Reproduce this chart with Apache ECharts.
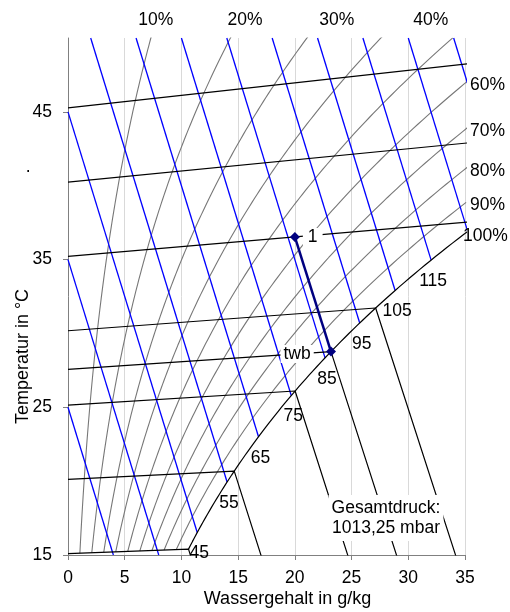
<!DOCTYPE html>
<html>
<head>
<meta charset="utf-8">
<script src="https://cdn.jsdelivr.net/npm/echarts@6/dist/echarts.min.js"></script>
<style>
  html, body { margin: 0; padding: 0; background: #fff; }
  #chart { width: 510px; height: 612px; }
</style>
</head>
<body>
<div id="chart"></div>
<script>
// h,x-Diagramm (Mollier) für feuchte Luft bei 1013,25 mbar

const totalPressure = 1013.25;                               // mbar
const isothermTemps = [15, 20, 25, 30, 35, 40, 45];          // °C
const rhLevels = [10, 20, 30, 40, 50, 60, 70, 80, 90];       // %
const rhTopLabels = ['10%', '20%', '30%', '40%'];
const rhSideLevels = [60, 70, 80, 90, 100];                  // %
const enthalpyLines = [15, 25, 35, 45, 55, 65, 75, 85, 95, 105, 115, 125, 135]; // kJ/kg
const enthalpyLabels = [45, 55, 65, 75, 85, 95, 105, 115];   // kJ/kg
const waterTicks = [0, 5, 10, 15, 20, 25, 30, 35];           // g/kg
const tempTicks = [15, 25, 35, 45];                          // °C

// Zustandspunkt 1 und Kühlgrenztemperatur
const stateName = ['1'];
const stateTemp = [35];        // °C
const stateWater = [20];       // g/kg
const wetBulbTemp = [27.4];    // °C

const FONT = '"Liberation Sans", Arial, sans-serif';

// --- Stoffwerte ---
function satPressure(t) {            // hPa (Magnus)
  return 6.112 * Math.exp(17.62 * t / (243.12 + t));
}
function waterContent(t, phi) {      // g/kg
  const pv = phi * satPressure(t);
  return 622 * pv / (totalPressure - pv);
}
function enthalpy(t, x) {            // kJ/kg, x in g/kg
  return 1.006 * t + x * (2.501 + 0.00186 * t);
}
// schiefwinklige Ordinate: h - r0·x
function skewY(t, x) { return enthalpy(t, x) - 2.5 * x; }
function fogY(t, x) {
  const xs = waterContent(t, 1);
  return enthalpy(t, xs) + (x - xs) * 0.00419 * t - 2.5 * x;
}
function bisect(f, lo, hi) {
  let flo = f(lo);
  for (let i = 0; i < 80; i++) {
    const mid = (lo + hi) / 2, fm = f(mid);
    if ((fm < 0) === (flo < 0)) { lo = mid; flo = fm; } else { hi = mid; }
  }
  return (lo + hi) / 2;
}

const X_MAX = 35, Y_MIN = 15, Y_MAX = 50;

// relative Feuchte: Kurve von 15 °C bis über den Rand hinaus
function rhCurve(phi) {
  const pts = [];
  for (let t = 15; t <= 70; t += 0.25) {
    const x = waterContent(t, phi);
    const y = skewY(t, x);
    pts.push([x, y]);
    if (x > X_MAX || y > Y_MAX) break;
  }
  return pts;
}

// Isotherme inkl. Nebelisotherme
function isotherm(t) {
  const xs = waterContent(t, 1);
  const ys = skewY(t, xs);
  const pts = [[0, skewY(t, 0)], [xs, ys]];
  if (xs < X_MAX) {
    const xb = xs + (ys - Y_MIN + 0.5) / (2.5 - 0.00419 * t);
    pts.push([xb, fogY(t, xb)]);
  }
  return pts;
}

// Sättigungspunkt zu einer Enthalpie
function satPointForEnthalpy(h) {
  const t = bisect(tt => enthalpy(tt, waterContent(tt, 1)) - h, -10, 60);
  const x = waterContent(t, 1);
  return [x, skewY(t, x)];
}

function enthalpyLine(h) {
  const xa = Math.max(0, (h - Y_MAX) / 2.5);
  const sat = satPointForEnthalpy(h);
  const xe = Math.min(sat[0], (h - Y_MIN) / 2.5, X_MAX + 1);
  return [[xa, h - 2.5 * xa], [xe, h - 2.5 * xe]];
}

const baseLine = { type: 'line', symbol: 'none', silent: true, animation: false, clip: true };

const series = [];

rhLevels.forEach(p => {
  series.push(Object.assign({}, baseLine, {
    name: p + '%', z: 2, data: rhCurve(p / 100),
    lineStyle: { color: '#777777', width: 1.1 }
  }));
});

enthalpyLines.forEach(h => {
  series.push(Object.assign({}, baseLine, {
    name: 'h=' + h, z: 3, data: enthalpyLine(h),
    lineStyle: { color: '#0000FF', width: 1.3 }
  }));
});

// Sättigungslinie 100 %
series.push(Object.assign({}, baseLine, {
  name: '100%', z: 4, data: rhCurve(1),
  lineStyle: { color: '#000000', width: 1.2 }
}));

isothermTemps.concat(wetBulbTemp).forEach(t => {
  series.push(Object.assign({}, baseLine, {
    name: 't=' + t, z: 4, data: isotherm(t),
    lineStyle: { color: '#000000', width: 1.2 }
  }));
});

// Zustandsänderung 1 -> Kühlgrenze
const x2 = waterContent(wetBulbTemp[0], 1);
const statePts = [
  { value: [stateWater[0], skewY(stateTemp[0], stateWater[0])], name: stateName[0] },
  { value: [x2, skewY(wetBulbTemp[0], x2)], name: '' }
];
series.push({
  type: 'line', name: 'Zustand', z: 6, silent: true, animation: false,
  data: statePts,
  symbol: 'diamond', symbolSize: 10,
  itemStyle: { color: '#000080', opacity: 1 },
  lineStyle: { color: '#000080', width: 2.5 },
  label: {
    show: true, position: 'right', distance: 3,
    formatter: p => p.name,
    color: '#000', fontFamily: FONT, fontSize: 17.5, textBorderWidth: 0,
    backgroundColor: '#fff', padding: [0, 5, 0, 5]
  }
});

// Beschriftungen
const annot = [];
enthalpyLabels.forEach(h => {
  const s = satPointForEnthalpy(h);
  annot.push({ value: s, name: String(h), label: { offset: [2, 21] } });
});
// twb auf der Isotherme der Kühlgrenztemperatur
annot.push({
  value: [20.2, skewY(wetBulbTemp[0], 20.2)], name: 'twb',
  label: { backgroundColor: '#fff', padding: [0, 3, 0, 3] }
});
rhSideLevels.forEach(p => {
  const t = bisect(tt => waterContent(tt, p / 100) - X_MAX, 0, 80);
  annot.push({
    value: [X_MAX, skewY(t, X_MAX)], name: p + '%',
    label: { align: 'left', offset: p === 100 ? [-2, 3] : [5, 2] }
  });
});

series.push({
  type: 'scatter', name: 'Beschriftung', z: 8, silent: true, animation: false,
  clip: false, symbolSize: 0, data: annot,
  itemStyle: { color: '#000', opacity: 1 },
  label: {
    show: true, position: 'inside', formatter: p => p.name,
    color: '#000', fontFamily: FONT, fontSize: 17.5,
    textBorderWidth: 0, textBorderColor: 'transparent'
  }
});

const chart = echarts.init(document.getElementById('chart'), null, { renderer: 'canvas' });

const graphics = [];
const topPos = [155.7, 245, 336.7, 430.7];
rhTopLabels.forEach((txt, i) => {
  graphics.push({
    type: 'text', x: topPos[i], y: 20, z: 50,
    style: { text: txt, fill: '#000', font: '17.5px ' + FONT, textAlign: 'center', textVerticalAlign: 'middle' }
  });
});
graphics.push({
  type: 'text', x: 386, y: 518, z: 50,
  style: {
    text: 'Gesamtdruck:\n1013,25 mbar', fill: '#000', font: '17.5px ' + FONT,
    textAlign: 'center', textVerticalAlign: 'middle', lineHeight: 20,
    backgroundColor: '#fff', padding: [3, 3, 3, 3]
  }
});
graphics.push({
  type: 'text', x: 287.5, y: 599, z: 50,
  style: { text: 'Wassergehalt in g/kg', fill: '#000', font: '18px ' + FONT, textAlign: 'center', textVerticalAlign: 'middle' }
});
graphics.push({
  type: 'text', x: 23.5, y: 356.5, rotation: Math.PI / 2, z: 50,
  style: { text: 'Temperatur in °C', fill: '#000', font: '18px ' + FONT, textAlign: 'center', textVerticalAlign: 'middle' }
});
graphics.push({
  type: 'text', x: 28.3, y: 167, z: 50,
  style: { text: '.', fill: '#000', font: '17.5px ' + FONT, textAlign: 'center', textVerticalAlign: 'middle' }
});

chart.setOption({
  animation: false,
  backgroundColor: '#fff',
  grid: { left: 68, right: 45, top: 38, bottom: 57, containLabel: false },
  xAxis: {
    type: 'value', min: waterTicks[0], max: waterTicks[waterTicks.length - 1], interval: 5,
    axisLine: { show: true, onZero: false, lineStyle: { color: '#808080', width: 1 } },
    axisTick: { show: true, length: 5, lineStyle: { color: '#808080' } },
    axisLabel: { color: '#000', fontFamily: FONT, fontSize: 17.5, margin: 14 },
    splitLine: { show: true, lineStyle: { color: '#D9D9D9', width: 1 } }
  },
  yAxis: {
    type: 'value', min: Y_MIN, max: Y_MAX, interval: 10,
    axisLine: { show: true, onZero: false, lineStyle: { color: '#808080', width: 1 } },
    axisTick: { show: true, length: 5, lineStyle: { color: '#808080' }, customValues: tempTicks },
    axisLabel: { color: '#000', fontFamily: FONT, fontSize: 17.5, margin: 16, customValues: tempTicks },
    splitLine: { show: false }
  },
  graphic: graphics,
  series: series
});
</script>
</body>
</html>
